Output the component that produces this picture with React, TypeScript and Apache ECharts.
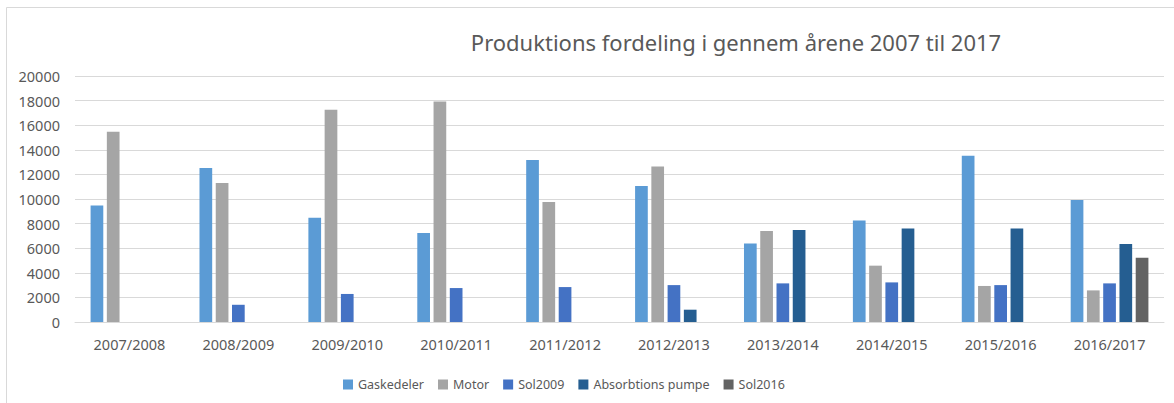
import React, { useEffect, useRef } from "react";
import * as echarts from "echarts";

const categories = ["2007/2008", "2008/2009", "2009/2010", "2010/2011", "2011/2012", "2012/2013", "2013/2014", "2014/2015", "2015/2016", "2016/2017"];
const gaskedeler = [9480, 12520, 8480, 7230, 13170, 11050, 6390, 8260, 13520, 9920];
const motor = [15470, 11300, 17260, 17920, 9750, 12650, 7400, 4580, 2930, 2570];
const sol2009 = [null, 1400, 2280, 2760, 2840, 3000, 3140, 3220, 3000, 3140];
const absorbtions = [null, null, null, null, null, 1000, 7480, 7610, 7610, 6340];
const sol2016 = [null, null, null, null, null, null, null, null, null, 5230];
const yTicks = { min: 0, max: 20000, interval: 2000 };

const FONT = "'Noto Sans', 'Open Sans', sans-serif";
const TXT = "#595959";

export default function App() {
  const ref = useRef<HTMLDivElement>(null);
  useEffect(() => {
    if (!ref.current) return;
    const chart = echarts.init(ref.current, null, { renderer: "svg" });
    const mk = (name: string, data: (number | null)[], color: string) => ({
      name,
      type: "bar",
      data,
      barWidth: 12.7,
      barGap: "28%",
      itemStyle: { color },
    });
    chart.setOption({
      animation: false,
      backgroundColor: "#ffffff",
      textStyle: { fontFamily: FONT },
      title: {
        text: "Produktions fordeling i gennem årene 2007 til 2017",
        left: 731,
        top: 26,
        textAlign: "center",
        textStyle: { fontFamily: FONT, fontSize: 22, fontWeight: "normal", color: TXT },
      },
      graphic: [
        {
          type: "rect",
          shape: { x: 6.5, y: 7.5, width: 1200, height: 420 },
          style: { fill: "none", stroke: "#d9d9d9", lineWidth: 1 },
          silent: true,
        },
      ],
      legend: {
        left: 338,
        top: 373,
        itemWidth: 10,
        itemHeight: 10,
        itemGap: 14,
        icon: "rect",
        textStyle: { fontFamily: FONT, fontSize: 12.5, color: TXT },
        data: ["Gaskedeler", "Motor", "Sol2009", "Absorbtions pumpe", "Sol2016"],
      },
      grid: { left: 75, right: 10, top: 76, bottom: 81, containLabel: false },
      xAxis: {
        type: "category",
        data: categories,
        axisLine: { lineStyle: { color: "#d9d9d9" } },
        axisTick: { show: false },
        axisLabel: { fontFamily: FONT, fontSize: 14.5, color: TXT, margin: 14 },
      },
      yAxis: {
        type: "value",
        min: yTicks.min,
        max: yTicks.max,
        interval: yTicks.interval,
        axisLine: { show: false },
        axisTick: { show: false },
        splitLine: { lineStyle: { color: "#d9d9d9" } },
        axisLabel: {
          fontFamily: FONT,
          fontSize: 14.5,
          color: TXT,
          margin: 15,
          formatter: (v: number) => String(v),
        },
      },
      series: [
        mk("Gaskedeler", gaskedeler, "#5B9BD5"),
        mk("Motor", motor, "#A5A5A5"),
        mk("Sol2009", sol2009, "#4472C4"),
        mk("Absorbtions pumpe", absorbtions, "#255E91"),
        mk("Sol2016", sol2016, "#636363"),
      ],
    });
    return () => chart.dispose();
  }, []);
  return (
    <div
      ref={ref}
      style={{ position: "fixed", left: 0, top: 0, width: 1174, height: 403 }}
    />
  );
}
